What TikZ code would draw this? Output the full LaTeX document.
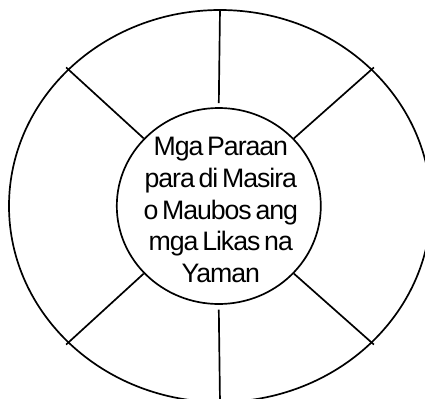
\documentclass[tikz,border=0pt]{standalone}
\usepackage{fontspec}
\setmainfont{Liberation Sans}
\newfontfamily\hubfont[LetterSpace=-4, WordSpace=0.6]{Liberation Sans}
\usepackage{tikz}
\usetikzlibrary{shapes.geometric, calc}

\begin{document}
\begin{tikzpicture}[line width=1.2pt]
    \useasboundingbox (-5.5,-4.8) rectangle (5.125,5.15);
    \clip (-5.5,-4.8) rectangle (5.125,5.15);
    % rings
    \node[draw, ellipse, minimum width=10.55cm, minimum height=9.8cm,
          inner sep=0pt] (outer) at (0,0) {};
    \node[draw, ellipse, minimum width=5.1cm, minimum height=4.9cm,
          inner sep=0pt] (hub) at (-0.03,0) {};
    \node[font=\hubfont\fontsize{19}{22.7}\selectfont, align=center, inner sep=0pt]
      (title) at (0.02,-0.1) {Mga Paraan\\para di Masira\\o Maubos ang\\mga Likas na\\Yaman};
    % spokes
    \draw (outer.north) -- ($(hub.north)+(0,0.1)$);
    \draw ($(hub.south)+(0,-0.12)$) -- (outer.south);
    \draw[shorten >=-0.06cm] (hub.138) -- (outer.138);
    \draw[shorten >=-0.06cm] (hub.42) -- (outer.42);
    \draw[shorten >=-0.06cm] (hub.222) -- (outer.222);
    \draw[shorten >=-0.06cm] (hub.318) -- (outer.318);
  \end{tikzpicture}
\end{document}
